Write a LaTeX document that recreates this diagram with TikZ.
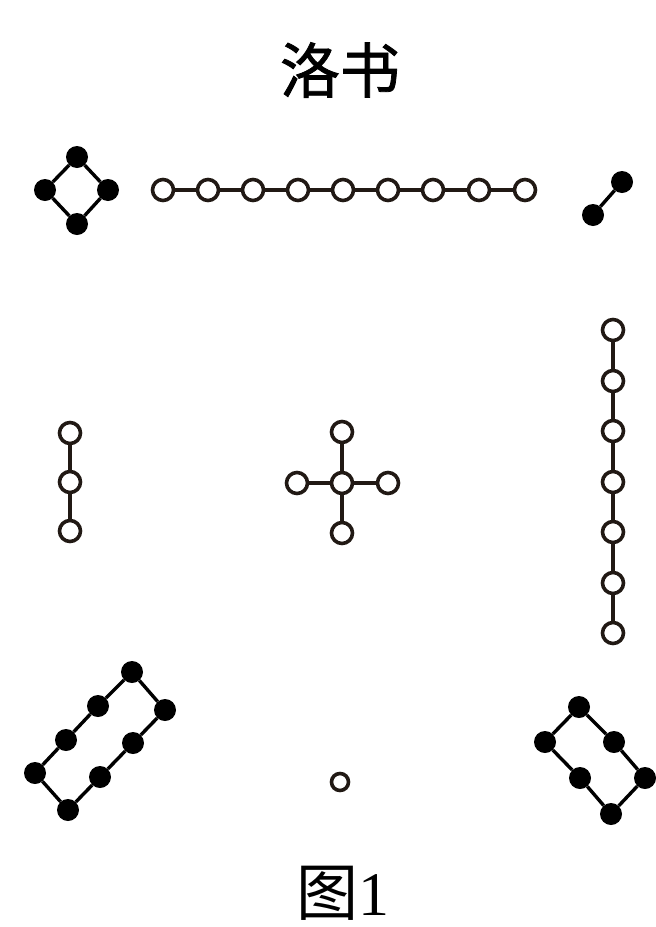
\documentclass[tikz,border=0pt]{standalone}
\usepackage{fontspec}
\newfontfamily\cjk{Noto Sans CJK SC}
\newfontfamily\cjkt[FakeBold=1.3]{Noto Sans CJK SC}
\newfontfamily\latinserif{Liberation Serif}
\definecolor{ink}{rgb}{0.13,0.10,0.08}
\tikzset{
  wdot/.style={circle,draw=ink,fill=white,line width=3.6pt,minimum size=21pt,inner sep=0pt},
  wsmall/.style={wdot,minimum size=17pt},
  bdot/.style={circle,fill=black,minimum size=22pt,inner sep=0pt},
  link/.style={draw=ink,line width=3.2pt},
  blink/.style={draw=black,line width=3.4pt}
}
\begin{document}
\begin{tikzpicture}[x=1pt,y=-1pt]
\useasboundingbox (0,0) rectangle (656,927);
\fill[white] (0,0) rectangle (656,927);
% titles
\node (title) at (340,70) {\fontsize{60}{60}\selectfont\cjkt 洛书};
\node (caption) at (343,893) {\fontsize{62}{62}\selectfont\cjk 图\latinserif 1};
% top-left: four (black, diamond)
\node[bdot] (f1) at (77,157) {};
\node[bdot] (f2) at (45,190) {};
\node[bdot] (f3) at (108,190) {};
\node[bdot] (f4) at (77,224) {};
\draw[blink] (f1) -- (f2) (f1) -- (f3) (f2) -- (f4) (f3) -- (f4);
% top: nine (white)
\foreach \i/\x in {1/163,2/208,3/253,4/298,5/343,6/388,7/433,8/479,9/525}
  \node[wdot] (n\i) at (\x,190) {};
\foreach \i [evaluate=\i as \j using int(\i+1)] in {1,...,8}
  \draw[link] (n\i) -- (n\j);
% top-right: two (black)
\node[bdot] (t1) at (622,182) {};
\node[bdot] (t2) at (593,215) {};
\draw[blink] (t1) -- (t2);
% middle-left: three (white)
\node[wdot] (h1) at (70,433) {};
\node[wdot] (h2) at (70,482) {};
\node[wdot] (h3) at (70,531) {};
\draw[link] (h1) -- (h2) (h2) -- (h3);
% center: five (white)
\node[wdot] (c0) at (342,483) {};
\node[wdot] (cN) at (342,432) {};
\node[wdot] (cS) at (342,533) {};
\node[wdot] (cW) at (297,483) {};
\node[wdot] (cE) at (388,483) {};
\draw[link] (c0) -- (cN) (c0) -- (cS) (c0) -- (cW) (c0) -- (cE);
% right: seven (white)
\foreach \i/\y in {1/330,2/381,3/431,4/482,5/532,6/583,7/633}
  \node[wdot] (s\i) at (613,\y) {};
\foreach \i [evaluate=\i as \j using int(\i+1)] in {1,...,6}
  \draw[link] (s\i) -- (s\j);
% bottom-left: eight (black)
\node[bdot] (e1) at (132,672) {};
\node[bdot] (e2) at (98,706) {};
\node[bdot] (e3) at (66,740) {};
\node[bdot] (e4) at (35,773) {};
\node[bdot] (e5) at (68,810) {};
\node[bdot] (e6) at (100,777) {};
\node[bdot] (e7) at (133,743) {};
\node[bdot] (e8) at (165,710) {};
\draw[blink] (e1) -- (e2) -- (e3) -- (e4) -- (e5) -- (e6) -- (e7) -- (e8) -- (e1);
% bottom-right: six (black)
\node[bdot] (x1) at (579,707) {};
\node[bdot] (x2) at (614,742) {};
\node[bdot] (x3) at (645,778) {};
\node[bdot] (x4) at (611,814) {};
\node[bdot] (x5) at (580,778) {};
\node[bdot] (x6) at (545,742) {};
\draw[blink] (x1) -- (x2) -- (x3) -- (x4) -- (x5) -- (x6) -- (x1);
% bottom: one (white)
\node[wsmall] (o1) at (340,782) {};
\end{tikzpicture}
\end{document}
